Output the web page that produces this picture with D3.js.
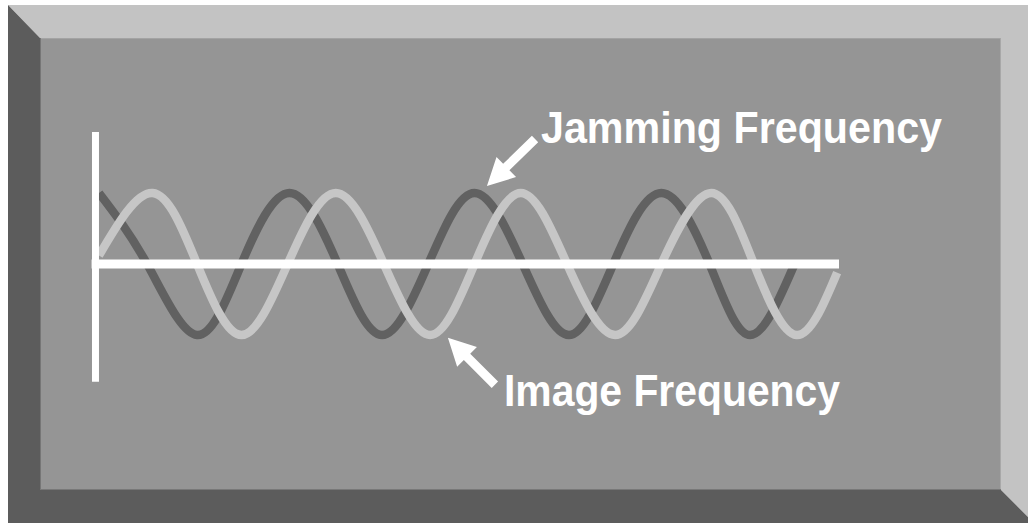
<!DOCTYPE html>
<html>
<head>
<meta charset="utf-8">
<script src="https://cdn.jsdelivr.net/npm/d3@7"></script>
<style>
  html, body { margin: 0; padding: 0; background: #ffffff; }
  svg { display: block; }
</style>
</head>
<body>
<svg id="chart" width="1028" height="523"></svg>
<script>
// ---- Data (x in cycles of the wave, y in relative amplitude) ----
const jammingX = [0, 0.26, 0.53, 0.77, 1.03, 1.29, 1.53, 1.78, 2.03, 2.29, 2.54, 2.78, 3.04, 3.30, 3.52, 3.76];
const jammingY = [1, 0, -1, 0, 1, 0, -1, 0, 1, 0, -1, 0, 1, 0, -1, 0];

const imageX = [0, 0.29, 0.53, 0.77, 1.02, 1.28, 1.54, 1.79, 2.03, 2.28, 2.53, 2.79, 3.04, 3.31, 3.54, 3.77, 3.99];
const imageY = [0.12, 1, 0, -1, 0, 1, 0, -1, 0, 1, 0, -1, 0, 1, 0, -1, -0.12];

const xAxisExtent = [-0.04, 4];
const yAxisExtent = [-1.66, 1.86];

const labels = ["Jamming Frequency", "Image Frequency"];
// arrow tip / tail in data units
const arrowTips = [[2.097, 1.10], [1.886, -1.04]];
const arrowTails = [[2.357, 1.76], [2.14, -1.70]];

// ---- Layout ----
const outer = {x0: 8, y0: 5, x1: 1034, y1: 523};
const inner = {x0: 40, y0: 38, x1: 1001, y1: 490};

const svg = d3.select("#chart");

const cLight = "#c3c3c3", cDark = "#5c5c5c", cFace = "#959595";

// bevel frame
const poly = pts => pts.map(p => p.join(",")).join(" ");
svg.append("polygon").attr("fill", cLight).attr("points",
  poly([[outer.x0, outer.y0], [outer.x1, outer.y0], [outer.x1, outer.y1],
        [inner.x1, inner.y1], [inner.x1, inner.y0], [inner.x0, inner.y0]]));
svg.append("polygon").attr("fill", cDark).attr("points",
  poly([[outer.x0, outer.y0], [inner.x0, inner.y0], [inner.x0, inner.y1],
        [inner.x1, inner.y1], [outer.x1, outer.y1], [outer.x0, outer.y1]]));
svg.append("rect").attr("x", inner.x0).attr("y", inner.y0)
  .attr("width", inner.x1 - inner.x0).attr("height", inner.y1 - inner.y0).attr("fill", cFace);
// subtle inner edges
svg.append("line").attr("x1", inner.x0).attr("x2", inner.x1).attr("y1", inner.y0 + 0.5).attr("y2", inner.y0 + 0.5)
  .attr("stroke", "#a3a3a3").attr("stroke-width", 1);
svg.append("line").attr("x1", inner.x1 - 0.5).attr("x2", inner.x1 - 0.5).attr("y1", inner.y0).attr("y2", inner.y1)
  .attr("stroke", "#a8a8a8").attr("stroke-width", 1);
svg.append("line").attr("x1", inner.x0 + 0.5).attr("x2", inner.x0 + 0.5).attr("y1", inner.y0).attr("y2", inner.y1)
  .attr("stroke", "#767676").attr("stroke-width", 1);
svg.append("line").attr("x1", inner.x0).attr("x2", inner.x1).attr("y1", inner.y1 - 0.5).attr("y2", inner.y1 - 0.5)
  .attr("stroke", "#787878").attr("stroke-width", 1);

// ---- Scales ----
const x = d3.scaleLinear().domain([0, 4]).range([99, 839]);
const y = d3.scaleLinear().domain([-1, 1]).range([335, 193]);

const line = d3.line().x(d => x(d[0])).y(d => y(d[1])).curve(d3.curveNatural);

const jamming = jammingX.map((v, i) => [v, jammingY[i]]);
const image = imageX.map((v, i) => [v, imageY[i]]);

svg.append("path").datum(jamming).attr("d", line)
  .attr("fill", "none").attr("stroke", "#616161").attr("stroke-width", 8.5);
svg.append("path").datum(image).attr("d", line)
  .attr("fill", "none").attr("stroke", "#c6c6c6").attr("stroke-width", 8.5);

// ---- Axes ----
svg.append("line")
  .attr("x1", x(xAxisExtent[0])).attr("x2", x(xAxisExtent[1]))
  .attr("y1", y(0)).attr("y2", y(0))
  .attr("stroke", "#ffffff").attr("stroke-width", 9);
svg.append("line")
  .attr("x1", x(-0.019)).attr("x2", x(-0.019))
  .attr("y1", y(yAxisExtent[1])).attr("y2", y(yAxisExtent[0]))
  .attr("stroke", "#ffffff").attr("stroke-width", 7);

// ---- Arrows ----
function arrowPath(tip, tail) {
  const tx = x(tip[0]), ty = y(tip[1]), ex = x(tail[0]), ey = y(tail[1]);
  const dx = ex - tx, dy = ey - ty, len = Math.hypot(dx, dy);
  const ux = dx / len, uy = dy / len, nx = -uy, ny = ux;
  const headL = 27, headW = 14, shaftW = 4.5;
  const bx = tx + ux * headL, by = ty + uy * headL;
  const pts = [
    [tx, ty],
    [bx + nx * headW, by + ny * headW],
    [bx + nx * shaftW, by + ny * shaftW],
    [ex + nx * shaftW, ey + ny * shaftW],
    [ex - nx * shaftW, ey - ny * shaftW],
    [bx - nx * shaftW, by - ny * shaftW],
    [bx - nx * headW, by - ny * headW]
  ];
  return "M" + pts.map(p => p.join(",")).join("L") + "Z";
}
arrowTips.forEach((t, i) => {
  svg.append("path").attr("d", arrowPath(t, arrowTails[i])).attr("fill", "#ffffff");
});

// ---- Labels ----
const labelPos = [[541, 143, 401], [504, 406, 336]];
labels.forEach((txt, i) => {
  svg.append("text")
    .attr("x", labelPos[i][0]).attr("y", labelPos[i][1])
    .attr("textLength", labelPos[i][2]).attr("lengthAdjust", "spacingAndGlyphs")
    .attr("font-family", "'Liberation Sans', Arial, Helvetica, sans-serif")
    .attr("font-weight", "bold").attr("font-size", 45)
    .attr("fill", "#ffffff")
    .text(txt);
});
</script>
</body>
</html>
